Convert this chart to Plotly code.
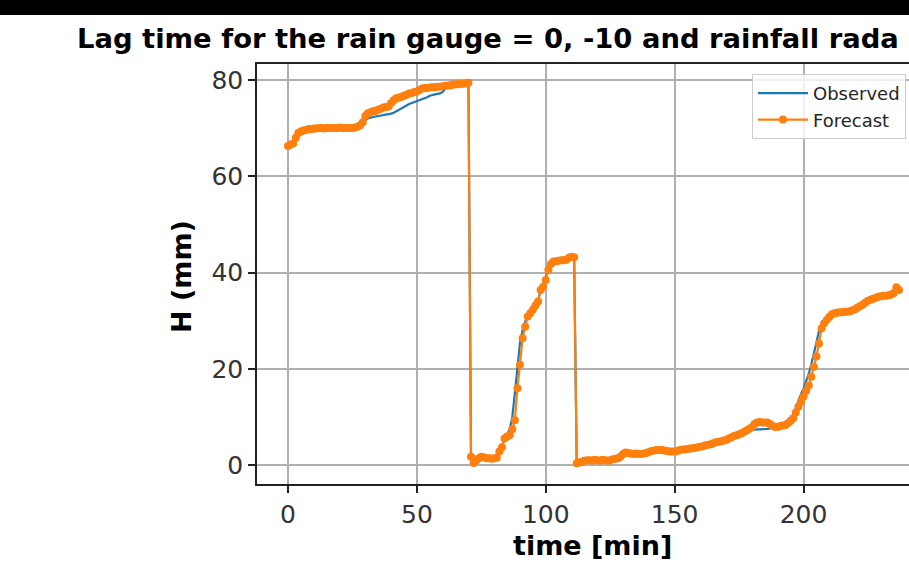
import plotly.graph_objects as go

time_min = list(range(238))

forecast = [
    66.3, 66.6, 66.8, 68.0, 69.0, 69.3, 69.5, 69.6, 69.8, 69.8,
    69.9, 69.9, 70.0, 70.0, 69.9, 70.0, 70.0, 70.0, 70.0, 70.0,
    70.1, 70.0, 70.0, 70.0, 70.0, 70.0, 70.1, 70.3, 70.6, 71.2,
    72.5, 73.1, 73.3, 73.5, 73.6, 73.8, 74.0, 74.3, 74.4, 74.5,
    75.2, 75.8, 76.2, 76.3, 76.5, 76.7, 76.9, 77.2, 77.3, 77.5,
    77.6, 77.9, 78.2, 78.3, 78.3, 78.4, 78.5, 78.5, 78.6, 78.6,
    78.7, 78.8, 78.8, 78.9, 79.0, 79.1, 79.1, 79.2, 79.2, 79.3,
    79.4, 1.8, 0.5, 1.0, 1.5, 1.8, 1.7, 1.5, 1.5, 1.4,
    1.5, 1.6, 2.9, 3.8, 5.6, 6.0, 6.3, 7.5, 9.4, 16.0,
    20.9, 26.4, 28.8, 30.9, 31.6, 32.3, 33.2, 34.0, 36.4, 37.1,
    38.5, 40.6, 41.8, 42.3, 42.4, 42.5, 42.6, 42.6, 42.7, 43.1,
    43.3, 43.2, 0.45, 0.6, 0.8, 1.0, 1.1, 1.1, 1.0, 1.2,
    1.1, 1.0, 1.2, 1.1, 1.0, 1.1, 1.3, 1.4, 1.5, 1.8,
    2.4, 2.7, 2.6, 2.5, 2.4, 2.5, 2.4, 2.4, 2.5, 2.6,
    2.8, 3.0, 3.1, 3.2, 3.2, 3.2, 3.1, 3.0, 2.9, 2.9,
    2.9, 3.0, 3.2, 3.3, 3.3, 3.4, 3.5, 3.6, 3.7, 3.8,
    3.9, 4.0, 4.2, 4.3, 4.4, 4.6, 4.8, 4.9, 5.0, 5.2,
    5.3, 5.6, 5.8, 6.1, 6.3, 6.5, 6.7, 7.0, 7.3, 7.6,
    8.0, 8.6, 8.9, 9.0, 8.9, 8.9, 8.9, 8.6, 8.2, 8.0,
    8.0, 8.2, 8.3, 8.4, 8.8, 9.3, 9.8, 11.0, 12.2, 13.3,
    14.3, 15.5, 16.6, 18.4, 20.5, 22.6, 25.3, 28.5, 29.5, 30.2,
    30.8, 31.4, 31.6, 31.7, 31.8, 31.8, 31.9, 31.9, 32.0, 32.2,
    32.4, 32.8, 33.1, 33.4, 33.8, 34.2, 34.4, 34.6, 34.8, 35.0,
    35.1, 35.2, 35.2, 35.3, 35.5, 35.8, 37.0, 36.4,
]

observed = [
    66.3, 66.7, 67.2, 68.2, 69.0, 69.3, 69.5, 69.6, 69.8, 69.8,
    69.9, 69.9, 70.0, 70.0, 69.9, 70.0, 70.0, 70.0, 70.0, 70.0,
    70.1, 70.0, 70.0, 70.0, 70.0, 70.0, 70.1, 70.2, 70.4, 70.8,
    71.6, 72.0, 72.2, 72.3, 72.4, 72.5, 72.5, 72.6, 72.7, 72.8,
    73.0, 73.2, 73.5, 73.8, 74.2, 74.5, 74.8, 75.0, 75.2, 75.4,
    75.5, 75.8, 76.0, 76.2, 76.4, 76.7, 76.9, 77.0, 77.1, 77.2,
    77.5, 78.2, 78.8, 78.9, 79.0, 79.1, 79.1, 79.2, 79.2, 79.3,
    79.4, 1.2, 0.3, 1.0, 1.4, 1.7, 1.6, 1.5, 1.5, 1.4,
    1.5, 1.8, 3.0, 4.2, 5.5, 6.5, 7.5, 10.0, 15.0, 21.0,
    25.5, 28.0, 29.8, 31.0, 31.8, 32.5, 33.3, 34.3, 36.2, 37.5,
    39.0, 41.0, 42.0, 42.3, 42.4, 42.5, 42.6, 42.6, 42.7, 43.0,
    43.2, 43.2, 0.45, 0.6, 0.8, 1.0, 1.1, 1.1, 1.0, 1.2,
    1.1, 1.0, 1.2, 1.1, 1.0, 1.1, 1.3, 1.4, 1.5, 1.8,
    2.4, 2.7, 2.6, 2.5, 2.4, 2.5, 2.4, 2.4, 2.5, 2.6,
    2.8, 3.0, 3.1, 3.2, 3.2, 3.2, 3.1, 3.0, 2.9, 2.9,
    2.9, 3.0, 3.2, 3.3, 3.3, 3.4, 3.5, 3.6, 3.7, 3.8,
    3.9, 4.0, 4.2, 4.3, 4.4, 4.6, 4.8, 4.9, 5.0, 5.2,
    5.3, 5.6, 5.8, 6.1, 6.3, 6.5, 6.7, 7.0, 7.2, 7.3,
    7.4, 7.5, 7.5, 7.5, 7.5, 7.5, 7.6, 7.7, 7.9, 8.0,
    8.0, 8.2, 8.3, 8.5, 9.0, 9.6, 10.5, 12.0, 13.5, 14.8,
    16.0, 17.5, 19.0, 21.0, 23.0, 25.5, 28.0, 29.3, 30.0, 30.6,
    31.0, 31.4, 31.6, 31.7, 31.8, 31.8, 31.9, 31.9, 32.0, 32.2,
    32.4, 32.8, 33.1, 33.4, 33.8, 34.2, 34.4, 34.6, 34.8, 35.0,
    35.1, 35.2, 35.2, 35.3, 35.5, 35.8, 36.6, 36.4,
]

x_ticks = [0, 50, 100, 150, 200]
y_ticks = [0, 20, 40, 60, 80]

title_text = "Lag time for the rain gauge = 0, -10 and rainfall rada"
x_label = "time [min]"
y_label = "H (mm)"

W, H = 909, 575
L, R, T, B = 257, 0, 64, 91
PW = W - L - R
PH = H - T - B


def px_x(p):
    return (p - L) / PW


def px_y(p):
    return (H - B - p) / PH


FONT = "DejaVu Sans"
TICK_COLOR = "#333333"

fig = go.Figure()
fig.add_trace(go.Scatter(
    x=time_min, y=observed, name="Observed", mode="lines",
    line=dict(color="#1f77b4", width=2.2),
))
fig.add_trace(go.Scatter(
    x=time_min, y=forecast, name="Forecast", mode="lines+markers",
    line=dict(color="#ff7f0e", width=2.2),
    marker=dict(color="#ff7f0e", size=8),
))

fig.update_layout(
    width=W, height=H,
    margin=dict(l=L, r=R, t=T, b=B, pad=0, autoexpand=False),
    paper_bgcolor="white", plot_bgcolor="white",
    font=dict(family=FONT, color=TICK_COLOR),
    showlegend=True,
    legend=dict(
        x=px_x(752), y=px_y(74), xanchor="left", yanchor="top",
        bgcolor="rgba(255,255,255,0.8)", bordercolor="#cccccc", borderwidth=1,
        itemwidth=50,
        font=dict(family=FONT, size=18, color="#262626"),
    ),
    xaxis=dict(
        range=[-12.02, 240.9], tickvals=x_ticks,
        showgrid=True, gridcolor="#b0b0b0", gridwidth=1.5,
        zeroline=False, showline=True, linecolor="#222222", linewidth=1.6,
        mirror=True, ticks="outside", ticklen=7, tickwidth=1.5, tickcolor="#222222",
        tickfont=dict(family=FONT, size=25, color=TICK_COLOR),
    ),
    yaxis=dict(
        range=[-3.84, 83.3], tickvals=y_ticks,
        showgrid=True, gridcolor="#b0b0b0", gridwidth=1.5,
        zeroline=False, showline=True, linecolor="#222222", linewidth=1.6,
        mirror=False, ticks="outside", ticklen=7, tickwidth=1.5, tickcolor="#222222",
        tickfont=dict(family=FONT, size=25, color=TICK_COLOR),
    ),
    shapes=[dict(
        type="rect", xref="paper", yref="paper",
        x0=-0.5, x1=1.5, y0=px_y(15), y1=px_y(-10),
        fillcolor="black", line=dict(width=0), layer="above",
    )],
    annotations=[
        dict(text="<b>" + title_text + "</b>", xref="paper", yref="paper",
             x=px_x(75), y=px_y(38), xanchor="left", yanchor="middle",
             showarrow=False, font=dict(family=FONT, size=27.4, color="black")),
        dict(text="<b>" + x_label + "</b>", xref="paper", yref="paper",
             x=px_x(592), y=px_y(545), xanchor="center", yanchor="middle",
             showarrow=False, font=dict(family=FONT, size=27, color="black")),
        dict(text="<b>" + y_label + "</b>", xref="paper", yref="paper",
             x=px_x(181), y=px_y(277), xanchor="center", yanchor="middle",
             textangle=-90,
             showarrow=False, font=dict(family=FONT, size=27, color="black")),
    ],
)

fig.write_html("out.html")
